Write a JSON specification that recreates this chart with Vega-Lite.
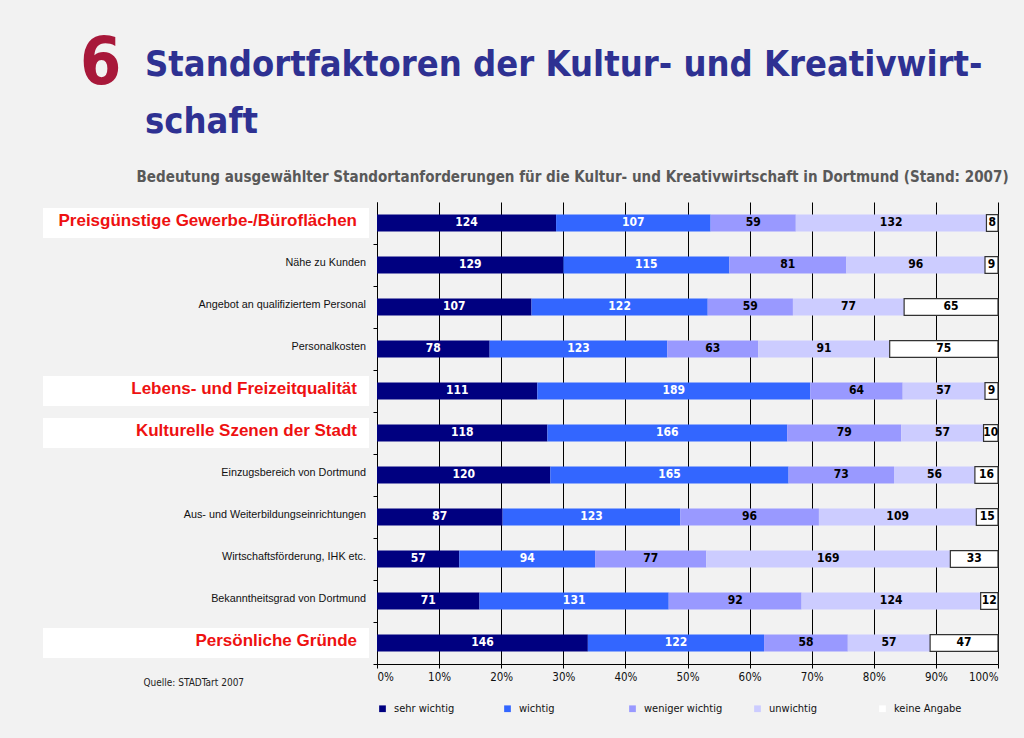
{
  "$schema": "https://vega.github.io/schema/vega-lite/v6.json",
  "background": "#f2f2f2",
  "padding": {"left": 43, "top": 30, "right": 16, "bottom": 24},
  "title": {
    "text": "6",
    "anchor": "start",
    "dx": 37,
    "offset": -51,
    "font": "DejaVu Sans Condensed",
    "fontSize": 66,
    "fontWeight": "bold",
    "color": "#A8183A"
  },
  "datasets": {
    "factors": [
      {"f": "Preisgünstige Gewerbe-/Büroflächen", "hl": true},
      {"f": "Nähe zu Kunden", "hl": false},
      {"f": "Angebot an qualifiziertem Personal", "hl": false},
      {"f": "Personalkosten", "hl": false},
      {"f": "Lebens- und Freizeitqualität", "hl": true},
      {"f": "Kulturelle Szenen der Stadt", "hl": true},
      {"f": "Einzugsbereich von Dortmund", "hl": false},
      {"f": "Aus- und Weiterbildungseinrichtungen", "hl": false},
      {"f": "Wirtschaftsförderung, IHK etc.", "hl": false},
      {"f": "Bekanntheitsgrad von Dortmund", "hl": false},
      {"f": "Persönliche Gründe", "hl": true}
    ],
    "values": [
      {"f": "Preisgünstige Gewerbe-/Büroflächen", "c": "sehr wichtig", "k": 1, "n": 124},
      {"f": "Preisgünstige Gewerbe-/Büroflächen", "c": "wichtig", "k": 2, "n": 107},
      {"f": "Preisgünstige Gewerbe-/Büroflächen", "c": "weniger wichtig", "k": 3, "n": 59},
      {"f": "Preisgünstige Gewerbe-/Büroflächen", "c": "unwichtig", "k": 4, "n": 132},
      {"f": "Preisgünstige Gewerbe-/Büroflächen", "c": "keine Angabe", "k": 5, "n": 8},
      {"f": "Nähe zu Kunden", "c": "sehr wichtig", "k": 1, "n": 129},
      {"f": "Nähe zu Kunden", "c": "wichtig", "k": 2, "n": 115},
      {"f": "Nähe zu Kunden", "c": "weniger wichtig", "k": 3, "n": 81},
      {"f": "Nähe zu Kunden", "c": "unwichtig", "k": 4, "n": 96},
      {"f": "Nähe zu Kunden", "c": "keine Angabe", "k": 5, "n": 9},
      {"f": "Angebot an qualifiziertem Personal", "c": "sehr wichtig", "k": 1, "n": 107},
      {"f": "Angebot an qualifiziertem Personal", "c": "wichtig", "k": 2, "n": 122},
      {"f": "Angebot an qualifiziertem Personal", "c": "weniger wichtig", "k": 3, "n": 59},
      {"f": "Angebot an qualifiziertem Personal", "c": "unwichtig", "k": 4, "n": 77},
      {"f": "Angebot an qualifiziertem Personal", "c": "keine Angabe", "k": 5, "n": 65},
      {"f": "Personalkosten", "c": "sehr wichtig", "k": 1, "n": 78},
      {"f": "Personalkosten", "c": "wichtig", "k": 2, "n": 123},
      {"f": "Personalkosten", "c": "weniger wichtig", "k": 3, "n": 63},
      {"f": "Personalkosten", "c": "unwichtig", "k": 4, "n": 91},
      {"f": "Personalkosten", "c": "keine Angabe", "k": 5, "n": 75},
      {"f": "Lebens- und Freizeitqualität", "c": "sehr wichtig", "k": 1, "n": 111},
      {"f": "Lebens- und Freizeitqualität", "c": "wichtig", "k": 2, "n": 189},
      {"f": "Lebens- und Freizeitqualität", "c": "weniger wichtig", "k": 3, "n": 64},
      {"f": "Lebens- und Freizeitqualität", "c": "unwichtig", "k": 4, "n": 57},
      {"f": "Lebens- und Freizeitqualität", "c": "keine Angabe", "k": 5, "n": 9},
      {"f": "Kulturelle Szenen der Stadt", "c": "sehr wichtig", "k": 1, "n": 118},
      {"f": "Kulturelle Szenen der Stadt", "c": "wichtig", "k": 2, "n": 166},
      {"f": "Kulturelle Szenen der Stadt", "c": "weniger wichtig", "k": 3, "n": 79},
      {"f": "Kulturelle Szenen der Stadt", "c": "unwichtig", "k": 4, "n": 57},
      {"f": "Kulturelle Szenen der Stadt", "c": "keine Angabe", "k": 5, "n": 10},
      {"f": "Einzugsbereich von Dortmund", "c": "sehr wichtig", "k": 1, "n": 120},
      {"f": "Einzugsbereich von Dortmund", "c": "wichtig", "k": 2, "n": 165},
      {"f": "Einzugsbereich von Dortmund", "c": "weniger wichtig", "k": 3, "n": 73},
      {"f": "Einzugsbereich von Dortmund", "c": "unwichtig", "k": 4, "n": 56},
      {"f": "Einzugsbereich von Dortmund", "c": "keine Angabe", "k": 5, "n": 16},
      {"f": "Aus- und Weiterbildungseinrichtungen", "c": "sehr wichtig", "k": 1, "n": 87},
      {"f": "Aus- und Weiterbildungseinrichtungen", "c": "wichtig", "k": 2, "n": 123},
      {"f": "Aus- und Weiterbildungseinrichtungen", "c": "weniger wichtig", "k": 3, "n": 96},
      {"f": "Aus- und Weiterbildungseinrichtungen", "c": "unwichtig", "k": 4, "n": 109},
      {"f": "Aus- und Weiterbildungseinrichtungen", "c": "keine Angabe", "k": 5, "n": 15},
      {"f": "Wirtschaftsförderung, IHK etc.", "c": "sehr wichtig", "k": 1, "n": 57},
      {"f": "Wirtschaftsförderung, IHK etc.", "c": "wichtig", "k": 2, "n": 94},
      {"f": "Wirtschaftsförderung, IHK etc.", "c": "weniger wichtig", "k": 3, "n": 77},
      {"f": "Wirtschaftsförderung, IHK etc.", "c": "unwichtig", "k": 4, "n": 169},
      {"f": "Wirtschaftsförderung, IHK etc.", "c": "keine Angabe", "k": 5, "n": 33},
      {"f": "Bekanntheitsgrad von Dortmund", "c": "sehr wichtig", "k": 1, "n": 71},
      {"f": "Bekanntheitsgrad von Dortmund", "c": "wichtig", "k": 2, "n": 131},
      {"f": "Bekanntheitsgrad von Dortmund", "c": "weniger wichtig", "k": 3, "n": 92},
      {"f": "Bekanntheitsgrad von Dortmund", "c": "unwichtig", "k": 4, "n": 124},
      {"f": "Bekanntheitsgrad von Dortmund", "c": "keine Angabe", "k": 5, "n": 12},
      {"f": "Persönliche Gründe", "c": "sehr wichtig", "k": 1, "n": 146},
      {"f": "Persönliche Gründe", "c": "wichtig", "k": 2, "n": 122},
      {"f": "Persönliche Gründe", "c": "weniger wichtig", "k": 3, "n": 58},
      {"f": "Persönliche Gründe", "c": "unwichtig", "k": 4, "n": 57},
      {"f": "Persönliche Gründe", "c": "keine Angabe", "k": 5, "n": 47}
    ]
  },
  "vconcat": [
    {
      "title": {
        "text": ["Standortfaktoren der Kultur- und Kreativwirt-", "schaft"],
        "anchor": "start",
        "dx": 102,
        "offset": 29,
        "font": "DejaVu Sans Condensed",
        "fontSize": 36,
        "fontWeight": "bold",
        "lineHeight": 57,
        "color": "#2E3192"
      },
      "spacing": 8,
      "bounds": "flush",
      "resolve": {"scale": {"color": "independent"}, "legend": {"color": "independent"}},
      "hconcat": [
        {
          "width": 326,
          "height": 462,
          "data": {"name": "factors"},
          "encoding": {
            "y": {
              "field": "f",
              "type": "nominal",
              "scale": {
                "domain": ["Preisgünstige Gewerbe-/Büroflächen", "Nähe zu Kunden", "Angebot an qualifiziertem Personal", "Personalkosten", "Lebens- und Freizeitqualität", "Kulturelle Szenen der Stadt", "Einzugsbereich von Dortmund", "Aus- und Weiterbildungseinrichtungen", "Wirtschaftsförderung, IHK etc.", "Bekanntheitsgrad von Dortmund", "Persönliche Gründe"],
                "paddingInner": 0.6,
                "paddingOuter": 0.3
              },
              "axis": null
            }
          },
          "layer": [
            {
              "transform": [{"filter": "datum.hl"}],
              "mark": {"type": "bar", "height": 30, "color": "white"},
              "encoding": {
                "x": {
                  "datum": 0,
                  "type": "quantitative",
                  "scale": {"domain": [0, 1], "nice": false},
                  "axis": {
                    "domain": false, "ticks": false, "labels": false, "grid": false,
                    "title": "Quelle: STADTart 2007",
                    "titleFont": "DejaVu Sans Condensed",
                    "titleFontSize": 10,
                    "titleFontWeight": "normal",
                    "titleColor": "#222222",
                    "titleX": 100,
                    "titleY": 21,
                    "titleAlign": "left",
                    "titleBaseline": "alphabetic"
                  }
                },
                "x2": {"datum": 1}
              }
            },
            {
              "transform": [{"filter": "datum.hl"}],
              "mark": {"type": "text", "align": "right", "baseline": "middle", "dx": -12, "dy": -2, "font": "Liberation Sans", "fontSize": 17, "fontWeight": "bold", "color": "#EE1111"},
              "encoding": {
                "x": {"datum": 1, "type": "quantitative"},
                "text": {"field": "f"}
              }
            },
            {
              "transform": [{"filter": "!datum.hl"}],
              "mark": {"type": "text", "align": "right", "baseline": "middle", "dx": -3, "dy": -2, "font": "Liberation Sans", "fontSize": 10.8, "color": "#111111"},
              "encoding": {
                "x": {"datum": 1, "type": "quantitative"},
                "text": {"field": "f"}
              }
            }
          ]
        },
        {
          "width": 621,
          "height": 462,
          "title": {
            "text": "Bedeutung ausgewählter Standortanforderungen für die Kultur- und Kreativwirtschaft in Dortmund (Stand: 2007)",
            "anchor": "end",
            "dx": 10,
            "offset": 17,
            "font": "DejaVu Sans Condensed",
            "fontSize": 15.05,
            "fontWeight": "bold",
            "color": "#595959"
          },
          "data": {"name": "values"},
          "encoding": {
            "y": {
              "field": "f",
              "type": "nominal",
              "scale": {
                "domain": ["Preisgünstige Gewerbe-/Büroflächen", "Nähe zu Kunden", "Angebot an qualifiziertem Personal", "Personalkosten", "Lebens- und Freizeitqualität", "Kulturelle Szenen der Stadt", "Einzugsbereich von Dortmund", "Aus- und Weiterbildungseinrichtungen", "Wirtschaftsförderung, IHK etc.", "Bekanntheitsgrad von Dortmund", "Persönliche Gründe"],
                "paddingInner": 0.6,
                "paddingOuter": 0.3
              },
              "axis": {
                "labels": false,
                "title": null,
                "domainColor": "#000000",
                "tickColor": "#000000",
                "tickSize": 4,
                "bandPosition": 1.75
              }
            }
          },
          "layer": [
            {
              "mark": {"type": "bar", "strokeWidth": 1.2},
              "encoding": {
                "x": {
                  "field": "n",
                  "type": "quantitative",
                  "stack": "normalize",
                  "scale": {"domain": [0, 1], "nice": false},
                  "axis": {
                    "values": [0, 0.1, 0.2, 0.3, 0.4, 0.5, 0.6, 0.7, 0.8, 0.9, 1],
                    "format": ".0%",
                    "title": null,
                    "grid": true,
                    "gridColor": "#000000",
                    "gridOpacity": 1,
                    "gridWidth": 1,
                    "domainColor": "#000000",
                    "tickColor": "#000000",
                    "tickSize": 4,
                    "labelFont": "DejaVu Sans Condensed",
                    "labelFontSize": 11.5,
                    "labelColor": "#111111",
                    "labelPadding": 3
                  }
                },
                "color": {
                  "field": "c",
                  "type": "nominal",
                  "scale": {
                    "domain": ["sehr wichtig", "wichtig", "weniger wichtig", "unwichtig", "keine Angabe"],
                    "range": ["#000080", "#3366FF", "#9999FF", "#CCCCFF", "#FFFFFF"]
                  },
                  "legend": {
                    "orient": "bottom",
                    "direction": "horizontal",
                    "title": null,
                    "columns": 5,
                    "gridAlign": "all",
                    "columnPadding": 29,
                    "symbolType": "square",
                    "symbolSize": 45,
                    "symbolStrokeWidth": 0,
                    "labelFont": "DejaVu Sans Condensed",
                    "labelFontSize": 11,
                    "labelColor": "#111111",
                    "labelOffset": 6,
                    "offset": 20
                  }
                },
                "stroke": {
                  "field": "c",
                  "type": "nominal",
                  "scale": {
                    "domain": ["sehr wichtig", "wichtig", "weniger wichtig", "unwichtig", "keine Angabe"],
                    "range": ["transparent", "transparent", "transparent", "transparent", "#333333"]
                  },
                  "legend": null
                },
                "order": {"field": "k"}
              }
            },
            {
              "mark": {"type": "text", "font": "DejaVu Sans Condensed", "fontSize": 12, "fontWeight": "bold", "baseline": "middle", "dy": -1},
              "encoding": {
                "x": {"field": "n", "type": "quantitative", "stack": "normalize", "bandPosition": 0.5},
                "text": {"field": "n"},
                "color": {"condition": {"test": "datum.k <= 2", "value": "#FFFFFF"}, "value": "#000000"},
                "order": {"field": "k"}
              }
            }
          ]
        }
      ]
    }
  ],
  "config": {
    "view": {"stroke": null},
    "axis": {"domainWidth": 1}
  }
}
